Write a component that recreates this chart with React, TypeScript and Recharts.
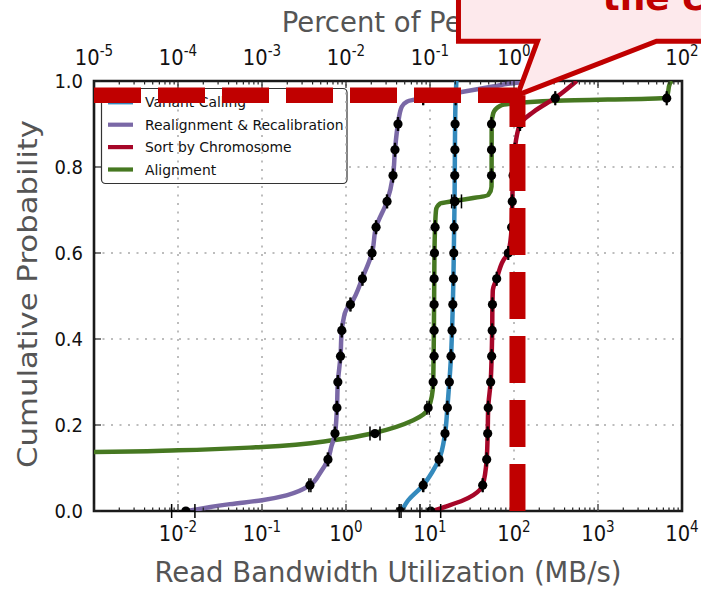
import React from 'react';
import {
  ComposedChart, Line, Scatter, XAxis, YAxis, CartesianGrid,
  ReferenceLine, ReferenceArea, ReferenceDot, ErrorBar, Label, Customized,
} from 'recharts';

const FONT = '"DejaVu Sans", Verdana, sans-serif';

// ---------------- data ----------------
const seriesNames = ['Variant Calling', 'Realignment & Recalibration', 'Sort by Chromosome', 'Alignment'];
const seriesColors = ['#348ABD', '#7A68A6', '#A60628', '#467821'];

// CDF curves: [read bandwidth MB/s, cumulative probability]
const variantCallingCurve: [number, number][] = [
  [4.6, 0], [5.5, 0.025], [8.3, 0.06], [10.6, 0.09], [12.8, 0.12], [15.1, 0.18], [16.1, 0.24],
  [17.0, 0.30], [17.8, 0.36], [18.3, 0.42], [18.7, 0.48], [19.0, 0.54], [19.2, 0.60], [19.4, 0.66],
  [19.6, 0.72], [19.7, 0.78], [19.8, 0.84], [19.9, 0.90], [20.2, 0.96], [20.6, 1.0],
];
const realignmentCurve: [number, number][] = [
  [0.0128, 0], [0.0416, 0.016], [0.1, 0.025], [0.2, 0.037], [0.372, 0.06], [0.49, 0.088], [0.61, 0.12],
  [0.67, 0.15], [0.74, 0.18], [0.78, 0.24], [0.80, 0.30], [0.86, 0.36], [0.89, 0.42], [0.93, 0.444],
  [1.0, 0.467], [1.15, 0.483], [1.59, 0.545], [2.04, 0.60], [2.28, 0.66], [3.08, 0.72], [3.63, 0.78],
  [3.83, 0.84], [4.16, 0.90], [4.6, 0.94], [5.3, 0.952], [6.3, 0.956], [8.3, 0.96], [18.8, 0.971],
  [56, 0.987], [97, 0.995], [180, 1.0],
];
const sortCurve: [number, number][] = [
  [10.6, 0], [15.7, 0.011], [24.9, 0.025], [32.8, 0.037], [42.4, 0.06], [47.3, 0.12], [48.6, 0.18],
  [49.3, 0.24], [52.7, 0.30], [54.2, 0.36], [55.0, 0.42], [55.4, 0.48], [56.0, 0.514], [62.2, 0.54],
  [74.6, 0.583], [85.5, 0.60], [93.7, 0.66], [95.4, 0.72], [97.5, 0.78], [102, 0.84], [118, 0.90],
  [170, 0.928], [322, 0.963], [557, 1.0],
];
const alignmentCurve: [number, number][] = [
  [0.0003, 0.136], [0.001, 0.137], [0.0101, 0.141], [0.101, 0.149], [0.74, 0.165], [2.21, 0.182],
  [6.32, 0.211], [9.55, 0.238], [10.9, 0.296], [11.2, 0.49], [11.3, 0.60], [11.5, 0.66], [11.8, 0.70],
  [13.2, 0.715], [19.8, 0.7215], [49.4, 0.735], [54, 0.754], [54.1, 0.77], [54.2, 0.90], [56.6, 0.925],
  [68, 0.942], [89.5, 0.947], [322, 0.954], [6577, 0.961], [7194, 0.995], [7600, 1.0],
];

// percentile markers: [MB/s, probability, error low, error high]
const variantCallingMarks: [number, number, number, number][] = [
  [4.4, 0, 0.1, 0.12], [8.3, 0.06, 0.12, 0.12], [12.8, 0.12, 0.2, 0.2], [15.1, 0.18, 0.2, 0.2],
  [16.1, 0.24, 0.2, 0.2], [17.0, 0.30, 0.2, 0.2], [17.8, 0.36, 0.2, 0.2], [18.3, 0.42, 0.2, 0.2],
  [18.7, 0.48, 0.2, 0.2], [19.0, 0.54, 0.2, 0.2], [19.2, 0.60, 0.2, 0.2], [19.4, 0.66, 0.2, 0.2],
  [19.6, 0.72, 0.2, 0.2], [19.7, 0.78, 0.2, 0.2], [19.8, 0.84, 0.2, 0.2], [19.9, 0.90, 0.2, 0.2],
  [20.2, 0.96, 0.2, 0.2],
];
const realignmentMarks: [number, number, number, number][] = [
  [0.0124, 0, 0.004, 0.0035], [0.372, 0.06, 0.01, 0.01], [0.61, 0.12, 0.01, 0.01], [0.74, 0.18, 0.01, 0.01],
  [0.78, 0.24, 0.01, 0.01], [0.80, 0.30, 0.01, 0.01], [0.86, 0.36, 0.01, 0.01], [0.89, 0.42, 0.01, 0.01],
  [1.13, 0.48, 0.015, 0.015], [1.57, 0.54, 0.02, 0.02], [2.04, 0.60, 0.03, 0.03], [2.28, 0.66, 0.03, 0.03],
  [3.08, 0.72, 0.04, 0.04], [3.63, 0.78, 0.04, 0.04], [3.83, 0.84, 0.04, 0.04], [4.16, 0.90, 0.05, 0.05],
  [8.3, 0.96, 0.1, 0.1],
];
const sortMarks: [number, number, number, number][] = [
  [10.2, 0, 2.6, 3.2], [42.4, 0.06, 0.5, 0.5], [47.3, 0.12, 0.5, 0.5], [48.6, 0.18, 0.5, 0.5],
  [49.3, 0.24, 0.5, 0.5], [52.7, 0.30, 0.5, 0.5], [54.2, 0.36, 0.5, 0.5], [55.0, 0.42, 0.5, 0.5],
  [55.4, 0.48, 0.5, 0.5], [62.2, 0.54, 0.6, 0.6], [85.5, 0.60, 0.8, 0.8], [93.7, 0.66, 0.9, 0.9],
  [95.4, 0.72, 0.9, 0.9], [97.5, 0.78, 1, 1], [102, 0.84, 1, 1], [118, 0.90, 1.2, 1.2],
  [310, 0.96, 3, 3],
];
const alignmentMarks: [number, number, number, number][] = [
  [2.21, 0.18, 0.28, 0.33], [9.5, 0.24, 0.3, 0.3], [10.9, 0.30, 0.1, 0.1], [11.2, 0.36, 0.1, 0.1],
  [11.2, 0.42, 0.1, 0.1], [11.2, 0.48, 0.1, 0.1], [11.2, 0.54, 0.1, 0.1], [11.3, 0.60, 0.1, 0.1],
  [11.5, 0.66, 0.1, 0.1], [19.8, 0.72, 1.7, 3.9], [54, 0.78, 0.5, 0.5], [54, 0.84, 0.5, 0.5],
  [54, 0.90, 0.5, 0.5], [6577, 0.96, 60, 60],
];

const xMajorTicks = [0.001, 0.01, 0.1, 1, 10, 100, 1000, 10000];
const xLabelledTicks = [0.01, 0.1, 1, 10, 100, 1000, 10000];
const topMajorTicks = [0.00001, 0.0001, 0.001, 0.01, 0.1, 1, 10, 100];
const yTicks = [0, 0.2, 0.4, 0.6, 0.8, 1.0];
const gridDecades = [0.01, 0.1, 1, 10, 100, 1000];
const highlightBandwidth = 110;
const highlightProbability = 0.967;

const xTitle = 'Read Bandwidth Utilization (MB/s)';
const topTitle = 'Percent of Peak';
const yTitle = 'Cumulative Probability';
const calloutText = 'the c';

// ---------------- helpers ----------------
const toPts = (arr: [number, number][]) => arr.map(([x, p]) => ({ x, p }));
const toMarks = (arr: [number, number, number, number][]) =>
  arr.map(([x, p, lo, hi]) => ({ x, p, err: [lo, hi] }));

const withMinor = (majors: number[]) => {
  const out: number[] = [];
  majors.forEach((m, i) => {
    out.push(m);
    if (i < majors.length - 1) for (let k = 2; k <= 9; k++) out.push(+(m * k).toPrecision(6));
  });
  return out;
};
const bottomTicks = withMinor(xMajorTicks);
const topTicks = withMinor(topMajorTicks);
// invisible anchor so the top/right axes get a series bound to them
const topAxisAnchor = [
  { x: topMajorTicks[0], p: yTicks[0] },
  { x: topMajorTicks[topMajorTicks.length - 1], p: yTicks[yTicks.length - 1] },
];

const isDecade = (v: number) => Math.abs(Math.log10(v) - Math.round(Math.log10(v))) < 1e-6;
const sameVal = (a: number, b: number) => Math.abs(Math.log10(a) - Math.log10(b)) < 1e-6;
const expText = (v: number) => {
  const e = Math.round(Math.log10(v));
  return e < 0 ? '-' + Math.abs(e) : String(e);
};

const TICK_COLOR = '#222';
const STRETCH = 1.12;

const PowerLabel = ({ x, y, v }: { x: number; y: number; v: number }) => (
  <text transform={`translate(${x}, ${y}) scale(1, ${STRETCH})`} x={0} y={0} textAnchor="middle"
    fontFamily={FONT} fontSize={19.5} fill="#111">
    10<tspan dy={-8} fontSize={13.5}>{expText(v)}</tspan>
  </text>
);

const BottomTick = (props: any) => {
  const { x, y, payload } = props;
  const v = payload.value;
  const major = isDecade(v);
  const showLabel = major && xLabelledTicks.some((t) => sameVal(t, v));
  return (
    <g>
      <line x1={x} x2={x} y1={y} y2={y - (major ? 7 : 3.5)} stroke={TICK_COLOR} strokeWidth={1.2} />
      {showLabel && <PowerLabel x={x} y={y + 30} v={v} />}
    </g>
  );
};

const TopTick = (props: any) => {
  const { x, y, payload } = props;
  const v = payload.value;
  const major = isDecade(v);
  return (
    <g>
      <line x1={x} x2={x} y1={y} y2={y + (major ? 7 : 3.5)} stroke={TICK_COLOR} strokeWidth={1.2} />
      {major && <PowerLabel x={x} y={y - 16} v={v} />}
    </g>
  );
};

const LeftTick = (props: any) => {
  const { x, y, payload } = props;
  const by = y + 18 * 0.36 * STRETCH;
  return (
    <g>
      <line x1={x} x2={x + 7} y1={y} y2={y} stroke={TICK_COLOR} strokeWidth={1.2} />
      <text transform={`translate(${x - 11}, ${by}) scale(1, ${STRETCH})`} x={0} y={0} textAnchor="end"
        fontFamily={FONT} fontSize={18} fill="#111">
        {Number(payload.value).toFixed(1)}
      </text>
    </g>
  );
};

const RightTick = (props: any) => {
  const { x, y } = props;
  return <line x1={x} x2={x - 7} y1={y} y2={y} stroke={TICK_COLOR} strokeWidth={1.2} />;
};

const BottomTitle = (props: any) => {
  const vb = props.viewBox;
  return (
    <text transform={`translate(${vb.x + vb.width / 2}, ${vb.y + 71}) scale(1, 1.05)`} x={0} y={0}
      textAnchor="middle" fontFamily={FONT} fontSize={27.5} fill="#555">
      {xTitle}
    </text>
  );
};
const TopTitle = (props: any) => {
  const vb = props.viewBox;
  return (
    <text transform={`translate(${vb.x + vb.width / 2}, ${vb.y + 32}) scale(1, 1.05)`} x={0} y={0}
      textAnchor="middle" fontFamily={FONT} fontSize={27.5} fill="#555">
      {topTitle}
    </text>
  );
};
const LeftTitle = (props: any) => {
  const vb = props.viewBox;
  const cx = vb.x + 37;
  const cy = vb.y + vb.height / 2 - 2;
  return (
    <text x={cx} y={cy} transform={`rotate(-90, ${cx}, ${cy})`} textAnchor="middle" fontFamily={FONT}
      fontSize={27} fill="#555" textLength={348} lengthAdjust="spacingAndGlyphs">
      {yTitle}
    </text>
  );
};

const MarkerDot = (props: any) => <circle cx={props.cx} cy={props.cy} r={4.6} fill="#000" />;

const LegendBox = () => (
  <g>
    <rect x={101.5} y={88.5} width={245.5} height={95} rx={4} fill="#fff" stroke="#333" strokeWidth={1.2} />
    {seriesNames.map((n, i) => {
      const cy = 102.3 + i * 22.4;
      return (
        <g key={n}>
          <line x1={108} x2={133} y1={cy} y2={cy} stroke={seriesColors[i]} strokeWidth={4.2} />
          <text x={145} y={cy} dy="0.36em" fontFamily={FONT} fontSize={13.9} fill="#111">{n}</text>
        </g>
      );
    })}
  </g>
);

const Callout = (props: any) => {
  const { cx, cy } = props;
  const top = -20;
  const base = cy - 54;
  const d = `M ${cx - 59} ${top} L ${cx - 59} ${base} L ${cx + 20} ${base} L ${cx} ${cy} L ${cx + 139} ${base} L ${cx + 260} ${base} L ${cx + 260} ${top} Z`;
  return (
    <g>
      <path d={d} fill="#FDE9EC" stroke="#C00000" strokeWidth={5} strokeLinejoin="miter" strokeMiterlimit={12} />
      <text x={cx + 85} y={cy - 85} fontFamily={FONT} fontSize={36} fontWeight="bold" fill="#C00000">
        {calloutText}
      </text>
    </g>
  );
};

const curves = [variantCallingCurve, realignmentCurve, sortCurve, alignmentCurve];
const marks = [variantCallingMarks, realignmentMarks, sortMarks, alignmentMarks];
const drawOrder = [3, 2, 1, 0];

export default function App() {
  return (
    <div style={{ position: 'absolute', left: 0, top: 0, width: 701, height: 595, background: '#fff' }}>
      <ComposedChart width={701} height={595} margin={{ top: 0, right: 19, bottom: 0, left: 0 }}>
        <XAxis xAxisId={0} dataKey="x" type="number" scale="log" domain={[0.001, 10000]} allowDataOverflow
          ticks={bottomTicks} interval={0} tickSize={0} tickMargin={0} axisLine={false} tickLine={false}
          tick={<BottomTick />} height={84} label={<Label content={<BottomTitle />} />} />
        <XAxis xAxisId="top" dataKey="x" orientation="top" type="number" scale="log" domain={[0.00001, 100]} allowDataOverflow
          ticks={topTicks} interval={0} tickSize={0} tickMargin={0} axisLine={false} tickLine={false}
          tick={<TopTick />} height={81} label={<Label content={<TopTitle />} />} />
        <YAxis yAxisId={0} dataKey="p" type="number" domain={[0, 1]} allowDataOverflow ticks={yTicks} interval={0}
          tickSize={0} tickMargin={0} axisLine={false} tickLine={false} tick={<LeftTick />} width={94}
          label={<Label content={<LeftTitle />} />} />
        <YAxis yAxisId="right" dataKey="p" orientation="right" type="number" domain={[0, 1]} allowDataOverflow
          ticks={yTicks} interval={0} tickSize={0} tickMargin={0} axisLine={false} tickLine={false}
          tick={<RightTick />} width={0} />
        <CartesianGrid vertical={false} stroke="#a8a8a8" strokeDasharray="2 6.5" strokeWidth={1.5} />
        {gridDecades.map((d) => (
          <ReferenceLine key={'g' + d} x={d} stroke="#a8a8a8" strokeDasharray="2 6.5" strokeWidth={1.5} />
        ))}
        <Line data={topAxisAnchor} xAxisId="top" yAxisId="right" dataKey="p" stroke="none" dot={false}
          activeDot={false} isAnimationActive={false} legendType="none" />
        {drawOrder.map((i) => (
          <Line key={'l' + i} data={toPts(curves[i])} dataKey="p" type="monotoneY" stroke={seriesColors[i]}
            strokeWidth={4.5} dot={false} activeDot={false} isAnimationActive={false} name={seriesNames[i]} />
        ))}
        {drawOrder.map((i) => (
          <Scatter key={'s' + i} data={toMarks(marks[i])} dataKey="p" fill="#000" shape={<MarkerDot />}
            isAnimationActive={false}>
            <ErrorBar dataKey="err" direction="x" width={7} stroke="#000" strokeWidth={1.5} />
          </Scatter>
        ))}
        <ReferenceArea x1={0.001} x2={10000} y1={0} y2={1} fill="none" stroke="#1a1a1a" strokeWidth={2.6}
          ifOverflow="visible" />
        <Customized component={LegendBox} />
        <ReferenceLine segment={[{ x: 0.001, y: highlightProbability }, { x: highlightBandwidth, y: highlightProbability }]}
          stroke="#C00000" strokeWidth={15.5} strokeDasharray="47 17" ifOverflow="visible" zIndex={2000} />
        <ReferenceLine segment={[{ x: highlightBandwidth, y: 0 }, { x: highlightBandwidth, y: highlightProbability }]}
          stroke="#C00000" strokeWidth={16} strokeDasharray="47 17" ifOverflow="visible" zIndex={2000} />
        <ReferenceDot x={highlightBandwidth} y={highlightProbability} r={1} shape={<Callout />} ifOverflow="visible"
          zIndex={2100} />
      </ComposedChart>
    </div>
  );
}
